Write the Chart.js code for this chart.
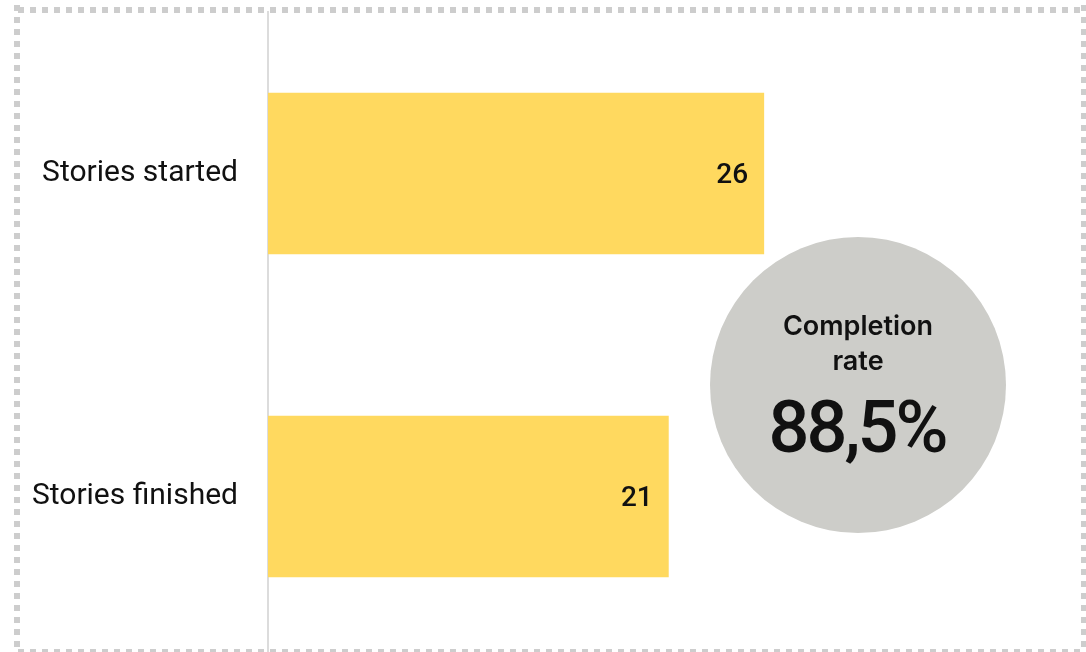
<!DOCTYPE html>
<html>
<head>
<meta charset="utf-8">
<script src="https://cdn.jsdelivr.net/npm/chart.js@4/dist/chart.umd.min.js"></script>
<style>
  html, body { margin: 0; padding: 0; background: #fff; }
  #wrap { position: relative; width: 1086px; height: 652px; overflow: hidden; }
  #wrap canvas { position: absolute; left: 0; top: 0; }
  .dots { position: absolute; }
  .dots.h { height: 6px; background: repeating-linear-gradient(to right, #cdcdcd 0 6px, transparent 6px 12px); }
  .dots.v { width: 6px; background: repeating-linear-gradient(to bottom, #cdcdcd 0 6px, transparent 6px 12px); }
</style>
</head>
<body>
<div id="wrap">
  <canvas id="storiesChart" width="1086" height="664"></canvas>
  <div class="dots h" style="left:18px; top:7px; width:1068px;"></div>
  <div class="dots h" style="left:18px; top:649px; width:1068px;"></div>
  <div class="dots v" style="left:14px; top:5px; height:650px;"></div>
  <div class="dots v" style="left:1081px; top:5px; height:650px;"></div>
</div>
<script>
const categories = ["Stories started", "Stories finished"];
const storyCounts = [26, 21];
const completionTitle = ["Completion", "rate"];
const completionRate = "88,5%";

const labelFont = "Roboto";

// value labels inside the end of each bar
const valueLabels = {
  id: "valueLabels",
  afterDatasetsDraw(chart) {
    const ctx = chart.ctx;
    const meta = chart.getDatasetMeta(0);
    ctx.save();
    ctx.font = "500 28px " + labelFont;
    ctx.fillStyle = "#111";
    ctx.textAlign = "right";
    ctx.textBaseline = "middle";
    meta.data.forEach((bar, i) => {
      ctx.fillText(String(storyCounts[i]), bar.x - 16, bar.y + 2);
    });
    ctx.restore();
  }
};

// grey badge with the completion rate
const rateBadge = {
  id: "rateBadge",
  afterDraw(chart) {
    const ctx = chart.ctx;
    const cx = 858, cy = 385, r = 148;
    ctx.save();
    ctx.beginPath();
    ctx.arc(cx, cy, r, 0, Math.PI * 2);
    ctx.fillStyle = "#cdcdc9";
    ctx.fill();
    ctx.fillStyle = "#111";
    ctx.textAlign = "center";
    ctx.textBaseline = "alphabetic";
    ctx.font = "600 27px Inter";
    ctx.fillText(completionTitle[0], cx, 335);
    ctx.fillText(completionTitle[1], cx, 370);
    ctx.font = "500 72px Roboto";
    ctx.letterSpacing = "-3px";
    ctx.fillText(completionRate, cx - 1, 452);
    ctx.restore();
  }
};

const ctx = document.getElementById("storiesChart").getContext("2d");
new Chart(ctx, {
  type: "bar",
  data: {
    labels: categories,
    datasets: [{
      data: storyCounts,
      backgroundColor: "#ffd95f",
      borderWidth: 0,
      categoryPercentage: 1,
      barPercentage: 0.5
    }]
  },
  options: {
    indexAxis: "y",
    responsive: false,
    animation: false,
    layout: { padding: { top: 12, bottom: 6, left: 0, right: 7 } },
    plugins: { legend: { display: false }, tooltip: { enabled: false } },
    scales: {
      x: { display: false, min: 0, max: 42.5 },
      y: {
        grid: { display: false, drawTicks: false },
        border: { display: true, color: "#dcdcdc", width: 2 },
        ticks: {
          color: "#111",
          font: { family: labelFont, size: 30 },
          padding: 30
        },
        afterFit(scale) {
          scale.width = 268;
          scale.paddingTop = 0;
          scale.paddingBottom = 0;
        }
      }
    }
  },
  plugins: [valueLabels, rateBadge]
});
</script>
</body>
</html>
